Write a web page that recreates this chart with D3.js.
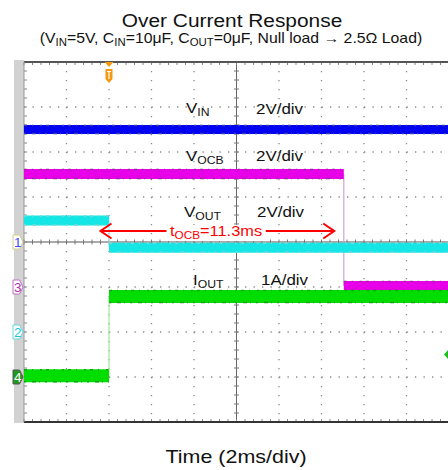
<!DOCTYPE html>
<html>
<head>
<meta charset="utf-8">
<script src="https://cdn.jsdelivr.net/npm/d3@7"></script>
<style>
  body { margin: 0; background: #fff; }
  svg { display: block; font-family: "Liberation Sans", Arial, sans-serif; }
</style>
</head>
<body>
<div id="chart"></div>
<script>
// time axis: 2 ms/div, trigger at 0
const timeDomain = [-4, 16];
// vertical divisions, 8 div on screen
const divDomain = [-4, 4];

const channelIds = ["1", "3", "2", "4"];
const channelGround = [0, -1, -2, -3];

// trace levels in divisions
const vinLevels = [{ t0: -4, t1: 16, v: 2.5 }];
const vocbLevels = [
  { t0: -4, t1: 11.05, v: 1.51 },
  { t0: 11.05, t1: 16, v: -0.98 },
];
const voutLevels = [
  { t0: -4, t1: 0, v: 0.48 },
  { t0: 0, t1: 16, v: -0.13 },
];
const ioutLevels = [
  { t0: -4, t1: 0, v: -2.97 },
  { t0: 0, t1: 16, v: -1.21 },
];

const traceLabels = ["IN", "OCB", "OUT", "OUT"];
const scaleLabels = ["2V/div", "2V/div", "2V/div", "1A/div"];

// measured time between the edges (ms)
const arrowSpan = [-0.4, 10.6];
const arrowText = "11.3ms";

const width = 448,
  height = 470;
const plot = { left: 24, right: 449, top: 62, bottom: 422 };
const stretch = 1.13;

const x = d3.scaleLinear().domain(timeDomain).range([plot.left, plot.right]);
const y = d3.scaleLinear().domain(divDomain).range([plot.bottom, plot.top]);

const svg = d3
  .select("#chart")
  .append("svg")
  .attr("width", width)
  .attr("height", height);

//text helper, parts are [string, isSub]
function addText(g, px, py, parts, size, anchor, color) {
  const t = g
    .append("text")
    .attr("transform", `translate(${px},${py}) scale(${stretch},1)`)
    .attr("font-size", size)
    .attr("text-anchor", anchor || "start")
    .attr("fill", color || "#111");
  let wasSub = false;
  parts.forEach((p) => {
    const sub = p[1];
    const span = t.append("tspan").text(p[0]);
    if (sub && !wasSub) span.attr("dy", size * 0.22).attr("font-size", size * 0.72);
    if (!sub && wasSub) span.attr("dy", -size * 0.22);
    wasSub = sub;
  });
  return t;
}

// titles
addText(svg, 232, 27, [["Over Current Response"]], 18.5, "middle");
addText(
  svg,
  231,
  43,
  [
    ["(V"], ["IN", true], ["=5V, C"], ["IN", true], ["=10μF, C"], ["OUT", true],
    ["=0μF, Null load → 2.5Ω Load)"],
  ],
  14,
  "middle"
);
addText(svg, 236, 463, [["Time (2ms/div)"]], 19, "middle");

// left gray strip
svg
  .append("rect")
  .attr("x", 14)
  .attr("y", plot.top - 2)
  .attr("width", plot.left - 14)
  .attr("height", plot.bottom - plot.top + 3)
  .attr("fill", "#d2d2d2");

const grid = svg.append("g");

const xMajor = d3.range(timeDomain[0], timeDomain[1] + 0.01, 2);
const yMajor = d3.range(divDomain[0], divDomain[1] + 0.01, 1);
const xMinor = d3.range(timeDomain[0], timeDomain[1] + 0.01, 0.4);
const yMinor = d3.range(divDomain[0], divDomain[1] + 0.01, 0.2);

// dotted grid
grid
  .selectAll(".gx")
  .data(xMajor.filter((d) => d > timeDomain[0] && d !== 6))
  .join("line")
  .attr("x1", (d) => x(d))
  .attr("x2", (d) => x(d))
  .attr("y1", plot.top)
  .attr("y2", plot.bottom)
  .attr("stroke", "#8a8a8a")
  .attr("stroke-width", 1.3)
  .attr("stroke-dasharray", "1.3,7.7");

grid
  .selectAll(".gy")
  .data(yMajor.filter((d) => d > divDomain[0] && d < divDomain[1] && d !== 0))
  .join("line")
  .attr("x1", plot.left)
  .attr("x2", plot.right)
  .attr("y1", (d) => y(d))
  .attr("y2", (d) => y(d))
  .attr("stroke", "#8a8a8a")
  .attr("stroke-width", 1.3)
  .attr("stroke-dasharray", "1.3,7.2");

// center cross with minor ticks
grid
  .append("line")
  .attr("x1", plot.left)
  .attr("x2", plot.right)
  .attr("y1", y(0))
  .attr("y2", y(0))
  .attr("stroke", "#555");
grid
  .append("line")
  .attr("x1", x(6))
  .attr("x2", x(6))
  .attr("y1", plot.top)
  .attr("y2", plot.bottom)
  .attr("stroke", "#666");

grid
  .selectAll(".cxt")
  .data(xMinor)
  .join("line")
  .attr("x1", (d) => x(d))
  .attr("x2", (d) => x(d))
  .attr("y1", y(0) - 2.5)
  .attr("y2", y(0) + 2.5)
  .attr("stroke", "#777");
grid
  .selectAll(".cyt")
  .data(yMinor)
  .join("line")
  .attr("x1", x(6) - 2.5)
  .attr("x2", x(6) + 2.5)
  .attr("y1", (d) => y(d))
  .attr("y2", (d) => y(d))
  .attr("stroke", "#777");

// frame ticks
grid
  .selectAll(".tt")
  .data(xMinor)
  .join("line")
  .attr("x1", (d) => x(d))
  .attr("x2", (d) => x(d))
  .attr("y1", plot.top)
  .attr("y2", plot.top + 3)
  .attr("stroke", "#888");
grid
  .selectAll(".bt")
  .data(xMinor)
  .join("line")
  .attr("x1", (d) => x(d))
  .attr("x2", (d) => x(d))
  .attr("y1", plot.bottom - 3)
  .attr("y2", plot.bottom)
  .attr("stroke", "#888");
grid
  .selectAll(".lt")
  .data(yMinor)
  .join("line")
  .attr("x1", plot.left)
  .attr("x2", plot.left + 3)
  .attr("y1", (d) => y(d))
  .attr("y2", (d) => y(d))
  .attr("stroke", "#888");

// frame lines
grid
  .append("line")
  .attr("x1", plot.left)
  .attr("x2", width)
  .attr("y1", plot.top)
  .attr("y2", plot.top)
  .attr("stroke", "#555")
  .attr("stroke-width", 2);
grid
  .append("line")
  .attr("x1", plot.left)
  .attr("x2", width)
  .attr("y1", plot.bottom)
  .attr("y2", plot.bottom)
  .attr("stroke", "#333")
  .attr("stroke-width", 2.2);
grid
  .append("line")
  .attr("x1", plot.left)
  .attr("x2", plot.left)
  .attr("y1", plot.top)
  .attr("y2", plot.bottom)
  .attr("stroke", "#999");

// traces
const traces = svg.append("g");

function drawTrace(levels, color, speck, thick, edgeColor) {
  const g = traces.append("g");
  // thin vertical edges between levels
  for (let i = 1; i < levels.length; i++) {
    g.append("line")
      .attr("x1", x(levels[i].t0))
      .attr("x2", x(levels[i].t0))
      .attr("y1", y(levels[i - 1].v))
      .attr("y2", y(levels[i].v))
      .attr("stroke", edgeColor)
      .attr("stroke-width", 1.2);
  }
  g.selectAll(".band")
    .data(levels)
    .join("line")
    .attr("x1", (d) => x(d.t0))
    .attr("x2", (d) => x(d.t1))
    .attr("y1", (d) => y(d.v))
    .attr("y2", (d) => y(d.v))
    .attr("stroke", color)
    .attr("stroke-width", thick);
  // noise fringe at the band edges
  [-1, 1].forEach((s) => {
    g.selectAll(".fr" + s)
      .data(levels)
      .join("line")
      .attr("x1", (d) => x(d.t0))
      .attr("x2", (d) => x(d.t1))
      .attr("y1", (d) => y(d.v) + s * (thick / 2 - 0.5))
      .attr("y2", (d) => y(d.v) + s * (thick / 2 - 0.5))
      .attr("stroke", speck)
      .attr("stroke-width", 1.5)
      .attr("stroke-dasharray", s < 0 ? "3,5,1,7,2,4" : "2,6,4,3,1,5");
  });
}

drawTrace(vinLevels, "#0000f2", "#3a3ab0", 9, "#8080ff");
drawTrace(vocbLevels, "#e800e8", "#9a2a9a", 10, "#c9a6d2");
drawTrace(voutLevels, "#14e6e6", "#7ad8d8", 10, "#a8eaea");
drawTrace(ioutLevels, "#00dd00", "#17a017", 13, "#a6e4a6");

// trace labels
const labelPos = [
  [186, 113, 256, 114],
  [186, 161, 256, 161],
  [184, 217, 257, 217],
  [193, 285, 261, 285],
];
labelPos.forEach((p, i) => {
  const first = i === 3 ? "I" : "V";
  addText(svg, p[0], p[1], [[first], [traceLabels[i], true]], 15, "start");
  addText(svg, p[2], p[3], [[scaleLabels[i]]], 15, "start");
});

// measurement arrow
const ay = 231;
const ag = svg.append("g");
ag.append("line")
  .attr("x1", x(arrowSpan[0]))
  .attr("x2", x(arrowSpan[1]))
  .attr("y1", ay)
  .attr("y2", ay)
  .attr("stroke", "#ff0000")
  .attr("stroke-width", 2);
[
  [x(arrowSpan[0]), 1],
  [x(arrowSpan[1]), -1],
].forEach(([px, dir]) => {
  ag.append("path")
    .attr("d", `M${px + dir * 11},${ay - 7.5}L${px},${ay}L${px + dir * 11},${ay + 7.5}`)
    .attr("fill", "none")
    .attr("stroke", "#ff0000")
    .attr("stroke-width", 2);
});
const tg = ag.append("g");
const tt = addText(
  tg,
  216,
  236,
  [["t"], ["OCB", true], ["=" + arrowText]],
  14.5,
  "middle",
  "#ff0000"
);
const bb = tt.node().getBBox();
tg.insert("rect", "text")
  .attr("x", 216 + (bb.x - 3) * stretch)
  .attr("y", 236 + bb.y + 2)
  .attr("width", (bb.width + 6) * stretch)
  .attr("height", bb.height - 2)
  .attr("fill", "#fff");

// channel ground markers
const markColors = ["#4a4aff", "#b030b0", "#20c8d8", "#1a8a1a"];
const markEdge = ["#d8cc90", "#c070c8", "#60d8e0", "#555"];
const markers = svg
  .selectAll(".mk")
  .data(channelIds)
  .join("g")
  .attr("transform", (d, i) => `translate(13,${y(channelGround[i])})`);
markers
  .append("path")
  .attr("d", "M0,-7L6.5,-7L10,0L6.5,7L0,7Z")
  .attr("fill", (d, i) => (i === 3 ? "#1f9a1f" : "#fff"))
  .attr("stroke", (d, i) => markEdge[i])
  .attr("stroke-width", 1);
markers
  .append("text")
  .attr("x", 4.8)
  .attr("y", 5)
  .attr("text-anchor", "middle")
  .attr("font-size", 13.5)
  .attr("fill", (d, i) => (i === 3 ? "#fff" : markColors[i]))
  .text((d) => d);

// trigger marker
const trig = svg.append("g").attr("transform", `translate(${x(0)},${plot.top})`);
trig
  .append("path")
  .attr("d", "M-4.5,0L4.5,0L0,5Z")
  .attr("fill", "#f59a10");
trig
  .append("path")
  .attr("d", "M-3.5,7L3.5,7L3.5,17L0,21L-3.5,17Z")
  .attr("fill", "#f59a10");
trig
  .append("path")
  .attr("d", "M-2,9.5L2,9.5M0,9.5L0,17")
  .attr("stroke", "#fff")
  .attr("stroke-width", 1.2);

// ch4 marker on the right edge
svg
  .append("path")
  .attr("transform", `translate(448,${y(-2.5)})`)
  .attr("d", "M0,-4.5L-4,0L0,4.5Z")
  .attr("fill", "#1fbf1f");
</script>
</body>
</html>
